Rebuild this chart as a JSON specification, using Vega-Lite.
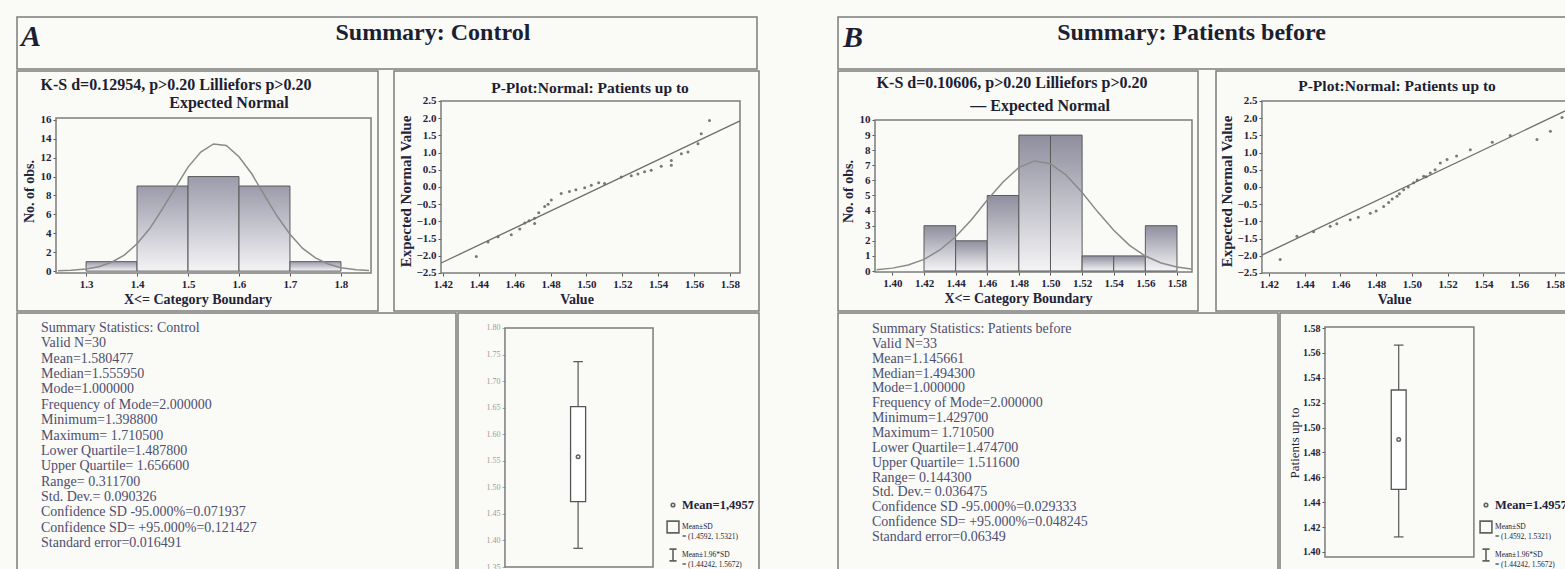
{
  "$schema": "https://vega.github.io/schema/vega-lite/v6.json",
  "padding": {"left": 16, "top": 16, "right": 0, "bottom": 0},
  "background": "#fafaf7",
  "config": {
    "view": {"stroke": "#7c7c7c", "strokeWidth": 1.5},
    "font": "Liberation Serif",
    "axis": {"labelFont": "Liberation Serif", "titleFont": "Liberation Serif", "labelColor": "#23233a", "titleColor": "#23233a", "domain": false, "grid": false, "tickColor": "#555", "tickSize": 3, "labelFontSize": 11, "titleFontSize": 14, "labelFontWeight": "bold", "titleFontWeight": "bold", "labelOverlap": false, "labelFlush": false, "labelPadding": 2},
    "text": {"font": "Liberation Serif", "color": "#1e1e32"}
  },
  "datasets": {
    "headA": [{"p": "A", "t": "Summary: Control"}],
    "headB": [{"p": "B", "t": "Summary: Patients before"}],
    "histA": [{"b0": 1.3, "b1": 1.4, "n": 1}, {"b0": 1.4, "b1": 1.5, "n": 9}, {"b0": 1.5, "b1": 1.6, "n": 10}, {"b0": 1.6, "b1": 1.7, "n": 9}, {"b0": 1.7, "b1": 1.8, "n": 1}],
    "curveA": [{"x": 1.245, "y": 0.03}, {"x": 1.27, "y": 0.08}, {"x": 1.3, "y": 0.22}, {"x": 1.325, "y": 0.47}, {"x": 1.35, "y": 0.94}, {"x": 1.375, "y": 1.7}, {"x": 1.4, "y": 2.9}, {"x": 1.425, "y": 4.5}, {"x": 1.45, "y": 6.6}, {"x": 1.475, "y": 8.8}, {"x": 1.5, "y": 11.0}, {"x": 1.525, "y": 12.6}, {"x": 1.55, "y": 13.45}, {"x": 1.575, "y": 13.3}, {"x": 1.6, "y": 12.1}, {"x": 1.625, "y": 10.3}, {"x": 1.65, "y": 8.0}, {"x": 1.675, "y": 5.8}, {"x": 1.7, "y": 3.9}, {"x": 1.725, "y": 2.4}, {"x": 1.75, "y": 1.4}, {"x": 1.775, "y": 0.75}, {"x": 1.8, "y": 0.36}, {"x": 1.83, "y": 0.14}, {"x": 1.855, "y": 0.06}],
    "histB": [{"b0": 1.42, "b1": 1.44, "n": 3}, {"b0": 1.44, "b1": 1.46, "n": 2}, {"b0": 1.46, "b1": 1.48, "n": 5}, {"b0": 1.48, "b1": 1.5, "n": 9}, {"b0": 1.5, "b1": 1.52, "n": 9}, {"b0": 1.52, "b1": 1.54, "n": 1}, {"b0": 1.54, "b1": 1.56, "n": 1}, {"b0": 1.56, "b1": 1.58, "n": 3}],
    "curveB": [{"x": 1.39, "y": 0.08}, {"x": 1.4, "y": 0.19}, {"x": 1.41, "y": 0.4}, {"x": 1.42, "y": 0.77}, {"x": 1.43, "y": 1.39}, {"x": 1.44, "y": 2.27}, {"x": 1.45, "y": 3.4}, {"x": 1.46, "y": 4.7}, {"x": 1.47, "y": 5.9}, {"x": 1.48, "y": 6.86}, {"x": 1.49, "y": 7.29}, {"x": 1.5, "y": 7.1}, {"x": 1.51, "y": 6.34}, {"x": 1.52, "y": 5.2}, {"x": 1.53, "y": 3.9}, {"x": 1.54, "y": 2.7}, {"x": 1.55, "y": 1.7}, {"x": 1.56, "y": 0.99}, {"x": 1.57, "y": 0.53}, {"x": 1.58, "y": 0.26}, {"x": 1.589, "y": 0.13}],
    "ppA": [{"x": 1.4386, "y": -2.02}, {"x": 1.4451, "y": -1.6}, {"x": 1.4507, "y": -1.45}, {"x": 1.4581, "y": -1.39}, {"x": 1.4628, "y": -1.22}, {"x": 1.4656, "y": -1.05}, {"x": 1.468, "y": -0.98}, {"x": 1.4711, "y": -1.06}, {"x": 1.4711, "y": -0.91}, {"x": 1.4734, "y": -0.75}, {"x": 1.4767, "y": -0.57}, {"x": 1.4786, "y": -0.5}, {"x": 1.4804, "y": -0.38}, {"x": 1.4859, "y": -0.19}, {"x": 1.4905, "y": -0.13}, {"x": 1.4941, "y": -0.08}, {"x": 1.499, "y": -0.02}, {"x": 1.5027, "y": 0.05}, {"x": 1.5068, "y": 0.12}, {"x": 1.5101, "y": 0.1}, {"x": 1.5194, "y": 0.29}, {"x": 1.525, "y": 0.33}, {"x": 1.5287, "y": 0.38}, {"x": 1.5324, "y": 0.44}, {"x": 1.5361, "y": 0.49}, {"x": 1.5417, "y": 0.6}, {"x": 1.5473, "y": 0.63}, {"x": 1.5473, "y": 0.77}, {"x": 1.5529, "y": 0.97}, {"x": 1.5566, "y": 1.02}, {"x": 1.5622, "y": 1.26}, {"x": 1.564, "y": 1.55}, {"x": 1.5686, "y": 1.93}],
    "lineA": [{"x": 1.419, "y": -2.21}, {"x": 1.5856, "y": 1.92}],
    "ppB": [{"x": 1.4263, "y": -2.11}, {"x": 1.4357, "y": -1.43}, {"x": 1.445, "y": -1.3}, {"x": 1.4543, "y": -1.14}, {"x": 1.458, "y": -1.07}, {"x": 1.4655, "y": -0.95}, {"x": 1.47, "y": -0.88}, {"x": 1.4767, "y": -0.76}, {"x": 1.48, "y": -0.7}, {"x": 1.4842, "y": -0.57}, {"x": 1.487, "y": -0.45}, {"x": 1.489, "y": -0.35}, {"x": 1.4917, "y": -0.27}, {"x": 1.493, "y": -0.2}, {"x": 1.4954, "y": -0.08}, {"x": 1.498, "y": 0.0}, {"x": 1.501, "y": 0.12}, {"x": 1.503, "y": 0.2}, {"x": 1.5066, "y": 0.31}, {"x": 1.508, "y": 0.3}, {"x": 1.5103, "y": 0.41}, {"x": 1.513, "y": 0.5}, {"x": 1.5159, "y": 0.7}, {"x": 1.5197, "y": 0.8}, {"x": 1.525, "y": 0.9}, {"x": 1.5327, "y": 1.08}, {"x": 1.545, "y": 1.3}, {"x": 1.555, "y": 1.5}, {"x": 1.57, "y": 1.38}, {"x": 1.5775, "y": 1.62}, {"x": 1.584, "y": 2.02}],
    "lineB": [{"x": 1.4161, "y": -1.98}, {"x": 1.5862, "y": 2.22}],
    "statsA": [{"i": 0, "t": "Summary Statistics: Control"}, {"i": 1, "t": "Valid N=30"}, {"i": 2, "t": "Mean=1.580477"}, {"i": 3, "t": "Median=1.555950"}, {"i": 4, "t": "Mode=1.000000"}, {"i": 5, "t": "Frequency of Mode=2.000000"}, {"i": 6, "t": "Minimum=1.398800"}, {"i": 7, "t": "Maximum= 1.710500"}, {"i": 8, "t": "Lower Quartile=1.487800"}, {"i": 9, "t": "Upper Quartile= 1.656600"}, {"i": 10, "t": "Range= 0.311700"}, {"i": 11, "t": "Std. Dev.= 0.090326"}, {"i": 12, "t": "Confidence SD -95.000%=0.071937"}, {"i": 13, "t": "Confidence SD= +95.000%=0.121427"}, {"i": 14, "t": "Standard error=0.016491"}],
    "statsB": [{"i": 0, "t": "Summary Statistics: Patients before"}, {"i": 1, "t": "Valid N=33"}, {"i": 2, "t": "Mean=1.145661"}, {"i": 3, "t": "Median=1.494300"}, {"i": 4, "t": "Mode=1.000000"}, {"i": 5, "t": "Frequency of Mode=2.000000"}, {"i": 6, "t": "Minimum=1.429700"}, {"i": 7, "t": "Maximum= 1.710500"}, {"i": 8, "t": "Lower Quartile=1.474700"}, {"i": 9, "t": "Upper Quartile= 1.511600"}, {"i": 10, "t": "Range= 0.144300"}, {"i": 11, "t": "Std. Dev.= 0.036475"}, {"i": 12, "t": "Confidence SD -95.000%=0.029333"}, {"i": 13, "t": "Confidence SD= +95.000%=0.048245"}, {"i": 14, "t": "Standard error=0.06349"}],
    "boxA": [{"lo": 1.3852, "q1": 1.473, "q3": 1.652, "hi": 1.7366}],
    "meanA": [{"k": "Mean=1,4957", "m": 1.5577}],
    "boxB": [{"lo": 1.4121, "q1": 1.4503, "q3": 1.5302, "hi": 1.5663}],
    "meanB": [{"k": "Mean=1.4957", "m": 1.4904}]
  },
  "spacing": 77,
  "resolve": {"scale": {"shape": "independent"}, "legend": {"shape": "independent"}},
  "hconcat": [
    {
      "spacing": 0,
      "resolve": {"scale": {"shape": "independent"}, "legend": {"shape": "independent"}},
      "vconcat": [
        {
          "width": 740, "height": 52,
          "data": {"name": "headA"},
          "layer": [
            {"mark": {"type": "text", "fontSize": 30, "fontWeight": "bold", "fontStyle": "italic", "align": "left", "baseline": "middle"},
             "encoding": {"x": {"datum": 0.0054, "type": "quantitative", "scale": {"domain": [0, 1]}, "axis": null}, "y": {"datum": 0.615, "type": "quantitative", "scale": {"domain": [0, 1]}, "axis": null}, "text": {"field": "p"}}},
            {"mark": {"type": "text", "fontSize": 24, "fontWeight": "bold", "align": "center", "baseline": "middle"},
             "encoding": {"x": {"datum": 0.562, "type": "quantitative", "scale": {"domain": [0, 1]}, "axis": null}, "y": {"datum": 0.69, "type": "quantitative", "scale": {"domain": [0, 1]}, "axis": null}, "text": {"field": "t"}}}
          ]
        },
        {
          "spacing": 14,
          "hconcat": [
            {
              "width": 361, "height": 240,
              "layer": [
                {"data": {"values": [{}]}, "mark": {"type": "rect", "filled": false, "color": "#7c7c7c", "strokeWidth": 1.5},
                 "encoding": {"x": {"datum": 1.241, "type": "quantitative", "scale": {"domain": [1.1645, 1.8727], "nice": false, "zero": false}, "axis": {"values": [1.3, 1.4, 1.5, 1.6, 1.7, 1.8], "tickCount": 40, "format": ".1f", "offset": -38, "title": "X<= Category Boundary", "titlePadding": 3, "labelOverlap": false}}, "x2": {"datum": 1.859},
                              "y": {"datum": -0.2, "type": "quantitative", "scale": {"domain": [-4.22, 21.17], "nice": false, "zero": false}, "axis": {"values": [0, 2, 4, 6, 8, 10, 12, 14, 16], "tickCount": 40, "format": "d", "offset": -39, "title": "No. of obs.", "titlePadding": 4, "labelOverlap": false}}, "y2": {"datum": 16.2}}},
                {"data": {"name": "histA"}, "mark": {"type": "rect", "fill": {"gradient": "linear", "x1": 0, "y1": 0, "x2": 0, "y2": 1, "stops": [{"offset": 0, "color": "#9b9bab"}, {"offset": 1, "color": "#f4f4f6"}]}, "stroke": "#5a5a5a", "strokeWidth": 1},
                 "encoding": {"x": {"field": "b0", "type": "quantitative"}, "x2": {"field": "b1"}, "y": {"field": "n", "type": "quantitative"}, "y2": {"datum": 0}}},
                {"data": {"name": "curveA"}, "mark": {"type": "line", "color": "#8a8a8a", "strokeWidth": 1.5},
                 "encoding": {"x": {"field": "x", "type": "quantitative"}, "y": {"field": "y", "type": "quantitative"}}},
                {"data": {"values": [{"t": "K-S d=0.12954, p>0.20  Lilliefors p>0.20"}]}, "mark": {"type": "text", "fontSize": 16, "fontWeight": "bold", "baseline": "middle"},
                 "encoding": {"x": {"datum": 1.4764, "type": "quantitative"}, "y": {"datum": 19.69, "type": "quantitative"}, "text": {"field": "t"}}},
                {"data": {"values": [{"t": "Expected Normal"}]}, "mark": {"type": "text", "fontSize": 16, "fontWeight": "bold", "baseline": "middle"},
                 "encoding": {"x": {"datum": 1.5804, "type": "quantitative"}, "y": {"datum": 17.78, "type": "quantitative"}, "text": {"field": "t"}}}
              ]
            },
            {
              "width": 365, "height": 240,
              "layer": [
                {"data": {"values": [{}]}, "mark": {"type": "rect", "filled": false, "color": "#7c7c7c", "strokeWidth": 1.5},
                 "encoding": {"x": {"datum": 1.4189, "type": "quantitative", "scale": {"domain": [1.3927, 1.5962], "nice": false, "zero": false}, "axis": {"values": [1.42, 1.44, 1.46, 1.48, 1.5, 1.52, 1.54, 1.56, 1.58], "tickCount": 40, "format": ".2f", "offset": -38, "title": "Value", "titlePadding": 3, "labelOverlap": false}}, "x2": {"datum": 1.5856},
                              "y": {"datum": -2.5, "type": "quantitative", "scale": {"domain": [-3.605, 3.372], "nice": false, "zero": false}, "axis": {"values": [-2.5, -2, -1.5, -1, -0.5, 0, 0.5, 1, 1.5, 2, 2.5], "tickCount": 40, "format": ".1f", "offset": -47, "title": "Expected Normal Value", "titleFontSize": 15, "titlePadding": 2, "labelOverlap": false}}, "y2": {"datum": 2.5}}},
                {"data": {"name": "lineA"}, "mark": {"type": "line", "color": "#6e6e6e", "strokeWidth": 1.3},
                 "encoding": {"x": {"field": "x", "type": "quantitative"}, "y": {"field": "y", "type": "quantitative"}}},
                {"data": {"name": "ppA"}, "mark": {"type": "point", "filled": true, "size": 9, "color": "#6a6a6a", "opacity": 0.9},
                 "encoding": {"x": {"field": "x", "type": "quantitative"}, "y": {"field": "y", "type": "quantitative"}}},
                {"data": {"values": [{"t": "P-Plot:Normal: Patients up to"}]}, "mark": {"type": "text", "fontSize": 15.5, "fontWeight": "bold", "baseline": "middle"},
                 "encoding": {"x": {"datum": 1.502, "type": "quantitative"}, "y": {"datum": 2.878, "type": "quantitative"}, "text": {"field": "t"}}}
              ]
            }
          ]
        },
        {
          "spacing": 0,
          "resolve": {"scale": {"shape": "independent"}, "legend": {"shape": "independent"}},
          "hconcat": [
            {
              "width": 439, "height": 259,
              "data": {"name": "statsA"},
              "mark": {"type": "text", "align": "left", "baseline": "middle", "fontSize": 14, "color": "#4e4e70"},
              "encoding": {"x": {"datum": 0.0547, "type": "quantitative", "scale": {"domain": [0, 1]}, "axis": null}, "y": {"field": "i", "type": "quantitative", "scale": {"domain": [-0.977, 15.888], "reverse": true, "nice": false, "zero": false}, "axis": null}, "text": {"field": "t"}}
            },
            {
              "width": 301, "height": 259,
              "layer": [
                {"data": {"values": [{}]}, "mark": {"type": "rect", "filled": false, "color": "#7c7c7c", "strokeWidth": 1.5},
                 "encoding": {"x": {"datum": 0.156, "type": "quantitative", "scale": {"domain": [0, 1], "nice": false, "zero": false}, "axis": null}, "x2": {"datum": 0.648},
                              "y": {"datum": 1.35, "type": "quantitative", "scale": {"domain": [1.3406, 1.8282], "nice": false, "zero": false}, "axis": {"values": [1.35, 1.4, 1.45, 1.5, 1.55, 1.6, 1.65, 1.7, 1.75, 1.8], "tickCount": 40, "format": ".2f", "offset": -47, "title": null, "labelColor": "#9a9a9a", "labelFontSize": 8, "labelFontWeight": "normal", "tickColor": "#aaa", "labelOverlap": false}}, "y2": {"datum": 1.8}}},
                {"data": {"name": "boxA"}, "mark": {"type": "rule", "color": "#555", "strokeWidth": 1.2},
                 "encoding": {"x": {"datum": 0.399, "type": "quantitative"}, "y": {"field": "lo", "type": "quantitative"}, "y2": {"field": "hi"}}},
                {"data": {"name": "boxA"}, "mark": {"type": "rule", "color": "#555", "strokeWidth": 1.2},
                 "encoding": {"x": {"datum": 0.383, "type": "quantitative"}, "x2": {"datum": 0.415}, "y": {"field": "hi", "type": "quantitative"}}},
                {"data": {"name": "boxA"}, "mark": {"type": "rule", "color": "#555", "strokeWidth": 1.2},
                 "encoding": {"x": {"datum": 0.383, "type": "quantitative"}, "x2": {"datum": 0.415}, "y": {"field": "lo", "type": "quantitative"}}},
                {"data": {"name": "boxA"}, "mark": {"type": "rect", "fill": "#ffffff", "stroke": "#555", "strokeWidth": 1.3},
                 "encoding": {"x": {"datum": 0.374, "type": "quantitative"}, "x2": {"datum": 0.424}, "y": {"field": "q1", "type": "quantitative"}, "y2": {"field": "q3"}}},
                {"data": {"name": "meanA"}, "mark": {"type": "point", "filled": false, "size": 140, "color": "#222", "strokeWidth": 1.5},
                 "encoding": {"x": {"datum": 0.399, "type": "quantitative"}, "y": {"field": "m", "type": "quantitative"},
                              "shape": {"field": "k", "type": "nominal", "scale": {"domain": ["Mean=1,4957", "Mean±SD|= (1.4592, 1.5321)", "Mean±1.96*SD|= (1.44242, 1.5672)"], "range": ["M0,-0.3A0.3,0.3,0,1,1,0,0.3A0.3,0.3,0,1,1,0,-0.3Z", "square", "M-0.6,-1H0.6M0,-1V1M-0.6,1H0.6"]},
                                        "legend": {"orient": "bottom-right", "offset": 4, "title": null, "symbolSize": 140, "symbolStrokeWidth": 1.6, "symbolStrokeColor": "#222", "labelFont": "Liberation Serif", "labelFontSize": {"expr": "datum.index === 0 ? 12.5 : 7.5"}, "labelFontWeight": {"expr": "datum.index === 0 ? 'bold' : 'normal'"}, "labelColor": "#23233a", "labelLimit": 160, "rowPadding": 5, "labelOffset": 2, "labelExpr": "split(datum.label, '|')"}}}}
              ]
            }
          ]
        }
      ]
    },
    {
      "spacing": 0,
      "resolve": {"scale": {"shape": "independent"}, "legend": {"shape": "independent"}},
      "vconcat": [
        {
          "width": 732, "height": 52,
          "data": {"name": "headB"},
          "layer": [
            {"mark": {"type": "text", "fontSize": 30, "fontWeight": "bold", "fontStyle": "italic", "align": "left", "baseline": "middle"},
             "encoding": {"x": {"datum": 0.007, "type": "quantitative", "scale": {"domain": [0, 1]}, "axis": null}, "y": {"datum": 0.6, "type": "quantitative", "scale": {"domain": [0, 1]}, "axis": null}, "text": {"field": "p"}}},
            {"mark": {"type": "text", "fontSize": 24, "fontWeight": "bold", "align": "center", "baseline": "middle"},
             "encoding": {"x": {"datum": 0.483, "type": "quantitative", "scale": {"domain": [0, 1]}, "axis": null}, "y": {"datum": 0.69, "type": "quantitative", "scale": {"domain": [0, 1]}, "axis": null}, "text": {"field": "t"}}}
          ]
        },
        {
          "spacing": 16,
          "hconcat": [
            {
              "width": 360, "height": 240,
              "layer": [
                {"data": {"values": [{}]}, "mark": {"type": "rect", "filled": false, "color": "#7c7c7c", "strokeWidth": 1.5},
                 "encoding": {"x": {"datum": 1.389, "type": "quantitative", "scale": {"domain": [1.3656, 1.5933], "nice": false, "zero": false}, "axis": {"values": [1.4, 1.42, 1.44, 1.46, 1.48, 1.5, 1.52, 1.54, 1.56, 1.58], "tickCount": 40, "format": ".2f", "offset": -39, "title": "X<= Category Boundary", "titlePadding": 3, "labelOverlap": false}}, "x2": {"datum": 1.5895},
                              "y": {"datum": -0.066, "type": "quantitative", "scale": {"domain": [-2.649, 13.245], "nice": false, "zero": false}, "axis": {"values": [0, 1, 2, 3, 4, 5, 6, 7, 8, 9, 10], "tickCount": 40, "format": "d", "offset": -37, "title": "No. of obs.", "titlePadding": 4, "labelOverlap": false}}, "y2": {"datum": 10}}},
                {"data": {"name": "histB"}, "mark": {"type": "rect", "fill": {"gradient": "linear", "x1": 0, "y1": 0, "x2": 0, "y2": 1, "stops": [{"offset": 0, "color": "#8e8e9e"}, {"offset": 1, "color": "#f4f4f6"}]}, "stroke": "#5a5a5a", "strokeWidth": 1},
                 "encoding": {"x": {"field": "b0", "type": "quantitative"}, "x2": {"field": "b1"}, "y": {"field": "n", "type": "quantitative"}, "y2": {"datum": 0}}},
                {"data": {"name": "curveB"}, "mark": {"type": "line", "color": "#8a8a8a", "strokeWidth": 1.5},
                 "encoding": {"x": {"field": "x", "type": "quantitative"}, "y": {"field": "y", "type": "quantitative"}}},
                {"data": {"values": [{"t": "K-S d=0.10606, p>0.20  Lilliefors p>0.20"}]}, "mark": {"type": "text", "fontSize": 16, "fontWeight": "bold", "baseline": "middle"},
                 "encoding": {"x": {"datum": 1.4757, "type": "quantitative"}, "y": {"datum": 12.45, "type": "quantitative"}, "text": {"field": "t"}}},
                {"data": {"values": [{"t": "—  Expected Normal"}]}, "mark": {"type": "text", "fontSize": 16, "fontWeight": "bold", "baseline": "middle"},
                 "encoding": {"x": {"datum": 1.4934, "type": "quantitative"}, "y": {"datum": 10.93, "type": "quantitative"}, "text": {"field": "t"}}}
              ]
            },
            {
              "width": 356, "height": 240,
              "layer": [
                {"data": {"values": [{}]}, "mark": {"type": "rect", "filled": false, "color": "#7c7c7c", "strokeWidth": 1.5},
                 "encoding": {"x": {"datum": 1.4161, "type": "quantitative", "scale": {"domain": [1.3904, 1.5896], "nice": false, "zero": false}, "axis": {"values": [1.42, 1.44, 1.46, 1.48, 1.5, 1.52, 1.54, 1.56, 1.58], "tickCount": 40, "format": ".2f", "offset": -38, "title": "Value", "titlePadding": 3, "labelOverlap": false}}, "x2": {"datum": 1.5862},
                              "y": {"datum": -2.5, "type": "quantitative", "scale": {"domain": [-3.605, 3.372], "nice": false, "zero": false}, "axis": {"values": [-2.5, -2, -1.5, -1, -0.5, 0, 0.5, 1, 1.5, 2, 2.5], "tickCount": 40, "format": ".1f", "offset": -46, "title": "Expected Normal Value", "titleFontSize": 15, "titlePadding": 2, "labelOverlap": false}}, "y2": {"datum": 2.5}}},
                {"data": {"name": "lineB"}, "mark": {"type": "line", "color": "#6e6e6e", "strokeWidth": 1.3},
                 "encoding": {"x": {"field": "x", "type": "quantitative"}, "y": {"field": "y", "type": "quantitative"}}},
                {"data": {"name": "ppB"}, "mark": {"type": "point", "filled": true, "size": 9, "color": "#6a6a6a", "opacity": 0.9},
                 "encoding": {"x": {"field": "x", "type": "quantitative"}, "y": {"field": "y", "type": "quantitative"}}},
                {"data": {"values": [{"t": "P-Plot:Normal: Patients up to"}]}, "mark": {"type": "text", "fontSize": 15.5, "fontWeight": "bold", "baseline": "middle"},
                 "encoding": {"x": {"datum": 1.4917, "type": "quantitative"}, "y": {"datum": 2.936, "type": "quantitative"}, "text": {"field": "t"}}}
              ]
            }
          ]
        },
        {
          "spacing": 0,
          "resolve": {"scale": {"shape": "independent"}, "legend": {"shape": "independent"}},
          "hconcat": [
            {
              "width": 440, "height": 259,
              "data": {"name": "statsB"},
              "mark": {"type": "text", "align": "left", "baseline": "middle", "fontSize": 14, "color": "#4e4e70"},
              "encoding": {"x": {"datum": 0.077, "type": "quantitative", "scale": {"domain": [0, 1]}, "axis": null}, "y": {"field": "i", "type": "quantitative", "scale": {"domain": [-1.077, 16.36], "reverse": true, "nice": false, "zero": false}, "axis": null}, "text": {"field": "t"}}
            },
            {
              "width": 292, "height": 259,
              "layer": [
                {"data": {"values": [{}]}, "mark": {"type": "rect", "filled": false, "color": "#7c7c7c", "strokeWidth": 1.5},
                 "encoding": {"x": {"datum": 0.154, "type": "quantitative", "scale": {"domain": [0, 1], "nice": false, "zero": false}, "axis": null}, "x2": {"datum": 0.664},
                              "y": {"datum": 1.396, "type": "quantitative", "scale": {"domain": [1.3839, 1.5921], "nice": false, "zero": false}, "axis": {"values": [1.4, 1.42, 1.44, 1.46, 1.48, 1.5, 1.52, 1.54, 1.56, 1.58], "tickCount": 40, "format": ".2f", "offset": -45, "title": "Patients up to", "titleFontWeight": "normal", "titleFontSize": 13, "titlePadding": 1, "labelFontSize": 10, "labelOverlap": false}}, "y2": {"datum": 1.5808}}},
                {"data": {"name": "boxB"}, "mark": {"type": "rule", "color": "#555", "strokeWidth": 1.2},
                 "encoding": {"x": {"datum": 0.4065, "type": "quantitative"}, "y": {"field": "lo", "type": "quantitative"}, "y2": {"field": "hi"}}},
                {"data": {"name": "boxB"}, "mark": {"type": "rule", "color": "#555", "strokeWidth": 1.2},
                 "encoding": {"x": {"datum": 0.39, "type": "quantitative"}, "x2": {"datum": 0.423}, "y": {"field": "hi", "type": "quantitative"}}},
                {"data": {"name": "boxB"}, "mark": {"type": "rule", "color": "#555", "strokeWidth": 1.2},
                 "encoding": {"x": {"datum": 0.39, "type": "quantitative"}, "x2": {"datum": 0.423}, "y": {"field": "lo", "type": "quantitative"}}},
                {"data": {"name": "boxB"}, "mark": {"type": "rect", "fill": "#ffffff", "stroke": "#555", "strokeWidth": 1.3},
                 "encoding": {"x": {"datum": 0.381, "type": "quantitative"}, "x2": {"datum": 0.432}, "y": {"field": "q1", "type": "quantitative"}, "y2": {"field": "q3"}}},
                {"data": {"name": "meanB"}, "mark": {"type": "point", "filled": false, "size": 140, "color": "#222", "strokeWidth": 1.5},
                 "encoding": {"x": {"datum": 0.4065, "type": "quantitative"}, "y": {"field": "m", "type": "quantitative"},
                              "shape": {"field": "k", "type": "nominal", "scale": {"domain": ["Mean=1.4957", "Mean±SD|= (1.4592, 1.5321)", "Mean±1.96*SD|= (1.44242, 1.5672)"], "range": ["M0,-0.3A0.3,0.3,0,1,1,0,0.3A0.3,0.3,0,1,1,0,-0.3Z", "square", "M-0.6,-1H0.6M0,-1V1M-0.6,1H0.6"]},
                                        "legend": {"orient": "bottom-right", "offset": 4, "title": null, "symbolSize": 140, "symbolStrokeWidth": 1.6, "symbolStrokeColor": "#222", "labelFont": "Liberation Serif", "labelFontSize": {"expr": "datum.index === 0 ? 12.5 : 7.5"}, "labelFontWeight": {"expr": "datum.index === 0 ? 'bold' : 'normal'"}, "labelColor": "#23233a", "labelLimit": 160, "rowPadding": 5, "labelOffset": 2, "labelExpr": "split(datum.label, '|')"}}}}
              ]
            }
          ]
        }
      ]
    }
  ]
}
